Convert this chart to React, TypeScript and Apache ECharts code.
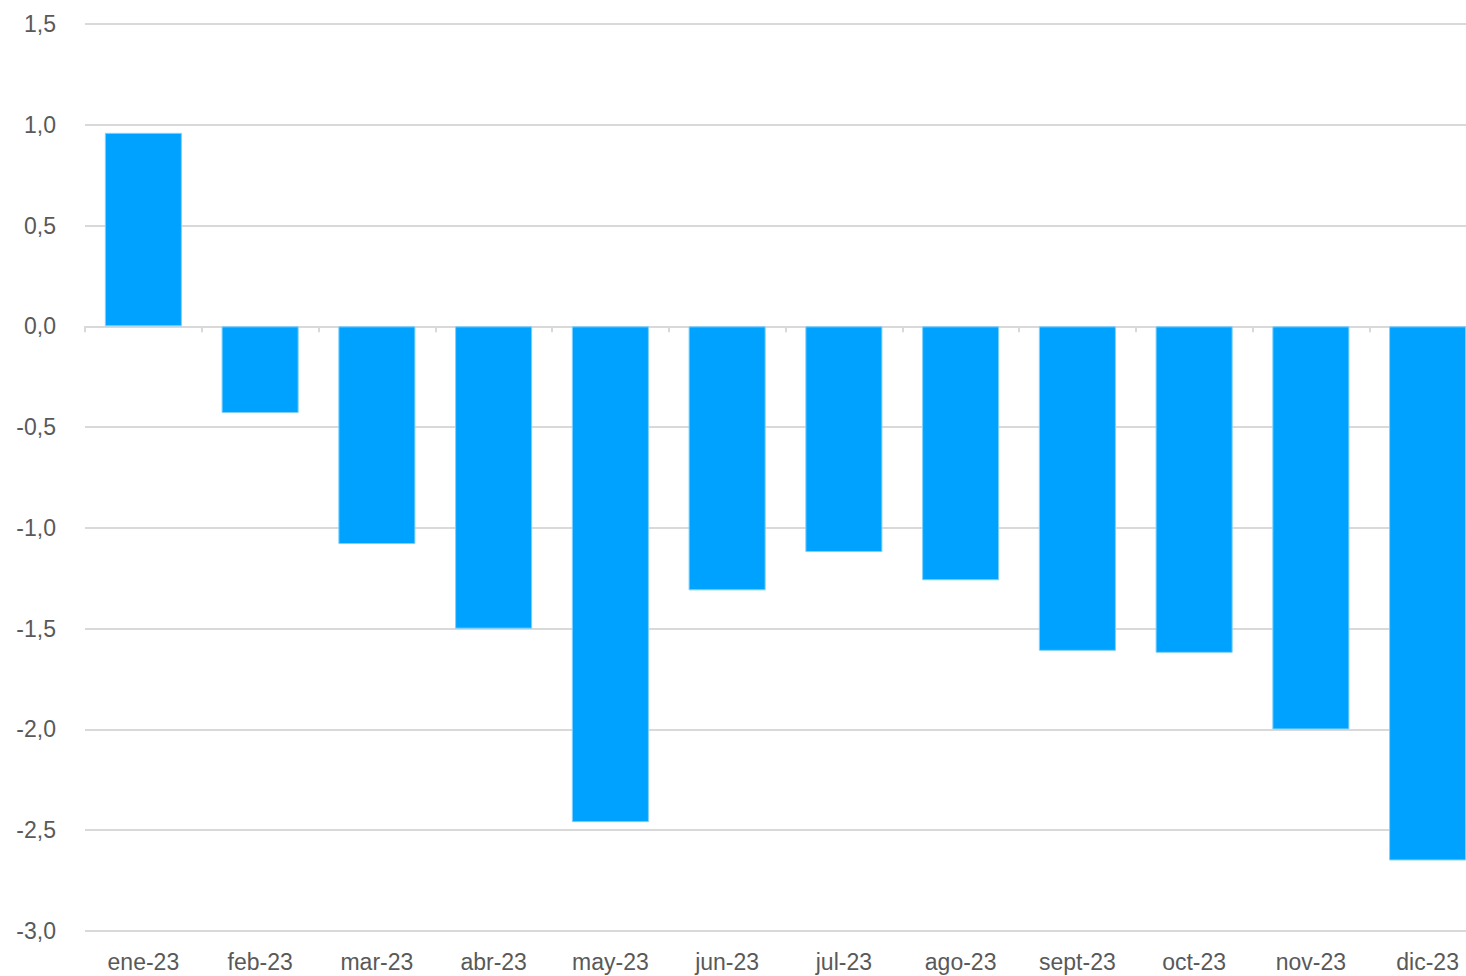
import React, { useEffect, useRef } from "react";
import * as echarts from "echarts";

const categories = ["ene-23", "feb-23", "mar-23", "abr-23", "may-23", "jun-23", "jul-23", "ago-23", "sept-23", "oct-23", "nov-23", "dic-23"];
const values = [0.96, -0.43, -1.08, -1.5, -2.46, -1.31, -1.12, -1.26, -1.61, -1.62, -2.0, -2.65];

export default function App() {
  const ref = useRef<HTMLDivElement>(null);
  useEffect(() => {
    if (!ref.current) return;
    const chart = echarts.init(ref.current, null, { renderer: "svg" });
    const font = "'Liberation Sans', Arial, Helvetica, sans-serif";
    chart.setOption({
      animation: false,
      backgroundColor: "#ffffff",
      grid: { left: 85, right: 0, top: 24, bottom: 45, containLabel: false },
      xAxis: [
        {
          type: "category",
          data: categories,
          axisLine: { show: true, onZero: true, lineStyle: { color: "#d9d9d9", width: 2 } },
          axisTick: { show: true, alignWithLabel: false, length: 6, lineStyle: { color: "#d9d9d9", width: 2 } },
          axisLabel: { show: false },
          splitLine: { show: false },
        },
        {
          type: "category",
          data: categories,
          position: "bottom",
          axisLine: { show: false, onZero: false },
          axisTick: { show: false },
          axisLabel: { show: true, color: "#595959", fontSize: 23, fontFamily: font, margin: 19 },
          splitLine: { show: false },
        },
      ],
      yAxis: {
        type: "value",
        min: -3,
        max: 1.5,
        interval: 0.5,
        axisLine: { show: false },
        axisTick: { show: false },
        axisLabel: {
          color: "#595959",
          fontSize: 23,
          fontFamily: font,
          margin: 29,
          formatter: (v: number) => v.toFixed(1).replace(".", ","),
        },
        splitLine: { show: true, lineStyle: { color: "#d9d9d9", width: 2 } },
      },
      series: [
        {
          type: "bar",
          xAxisIndex: 0,
          data: values,
          barCategoryGap: "34%",
          itemStyle: { color: "#00a2ff", borderColor: "#7fd0ff", borderWidth: 1 },
        },
      ],
    });
    return () => chart.dispose();
  }, []);
  return (
    <div style={{ position: "absolute", left: 0, top: 0, width: 1466, height: 976, overflow: "hidden", background: "#ffffff" }}>
      <div ref={ref} style={{ position: "absolute", left: 0, top: 0, width: 1486, height: 976 }} />
    </div>
  );
}
